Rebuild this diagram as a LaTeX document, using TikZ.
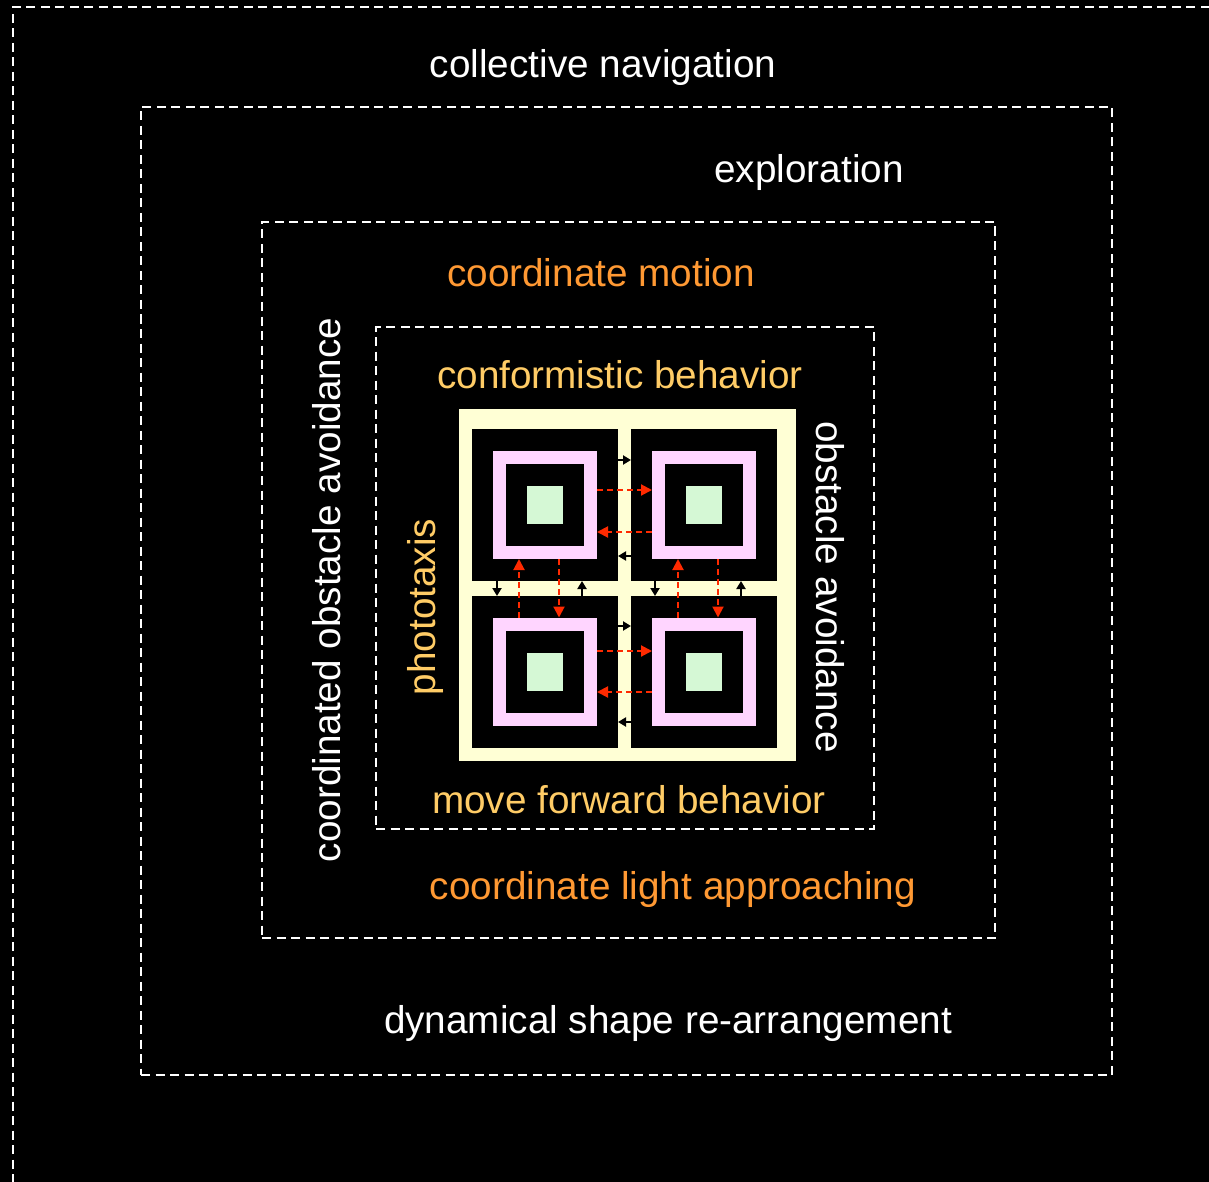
\documentclass[tikz,border=0pt]{standalone}
\usepackage{fontspec}
\setmainfont{Liberation Sans}
\usetikzlibrary{arrows.meta}
\definecolor{cream}{HTML}{FFFFD5}
\definecolor{pinkring}{HTML}{FFD5FF}
\definecolor{mint}{HTML}{D5F8D5}
\definecolor{linkred}{HTML}{FF2A00}
\definecolor{amber}{HTML}{FF9933}
\definecolor{gold}{HTML}{FFCC66}
\tikzset{
  frame/.style={draw=white, line width=1.8pt, dash pattern=on 9pt off 5.5pt,
    inner sep=0pt, outer sep=0pt},
  lbl/.style={font=\fontsize{38.7}{40}\selectfont, inner sep=0pt, anchor=base},
  cellbox/.style={fill=black, inner sep=0pt, outer sep=0pt,
    minimum width=146pt, minimum height=152pt},
  ringbox/.style={fill=pinkring, inner sep=0pt, outer sep=0pt,
    minimum width=104pt, minimum height=108pt},
  holebox/.style={fill=black, inner sep=0pt, outer sep=0pt,
    minimum width=78pt, minimum height=82pt},
  corebox/.style={fill=mint, inner sep=0pt, outer sep=0pt,
    minimum width=36pt, minimum height=38pt},
  sense/.style={black, line width=2pt, -{Triangle[length=8pt,width=9pt]}},
  signal/.style={linkred, line width=2pt, dash pattern=on 6pt off 4pt,
    -{Triangle[length=11pt,width=11pt]}}
}
\begin{document}
\begin{tikzpicture}[x=1pt,y=-1pt]
\useasboundingbox (0,0) rectangle (1209,1182);
\clip (0,0) rectangle (1209,1182);
\fill[black] (0,0) rectangle (1209,1182);

% nested behaviour frames
\node[frame, minimum width=1227pt, minimum height=1193pt] (navframe) at (626.5,603.5) {};
\node[frame, minimum width=971pt, minimum height=968pt] (expframe) at (626.5,591) {};
\node[frame, minimum width=733pt, minimum height=716pt] (motframe) at (628.5,580) {};
\node[frame, minimum width=498pt, minimum height=502pt] (conframe) at (625,578) {};

% frame titles
\node[lbl, white] (tnav) at (603,78) {collective navigation};
\node[lbl, white] (texp) at (809,183) {exploration};
\node[lbl, amber] (tmot) at (601,287) {coordinate motion};
\node[lbl, gold]  (tcon) at (620,388) {conformistic behavior};
\node[lbl, gold]  (tfwd) at (629,813) {move forward behavior};
\node[lbl, amber] (tlight) at (673,899) {coordinate light approaching};
\node[lbl, white] (tshape) at (668,1033) {dynamical shape re-arrangement};
\node[lbl, white, rotate=90] (tcoa) at (340,590) {coordinated obstacle avoidance};
\node[lbl, gold, rotate=90] (tphoto) at (435,607) {phototaxis};
\node[lbl, white, rotate=-90] (toa) at (816,587) {obstacle avoidance};

% robot modules
\node[fill=cream, inner sep=0pt, minimum width=337pt, minimum height=352pt] (board) at (627.5,585) {};
\foreach \n/\cx/\cy/\py in {a/545/505/505, b/704/505/505, c/545/672/671.5, d/704/672/671.5} {
  \node[cellbox] (cell\n) at (\cx,\cy) {};
  \node[ringbox] (ring\n) at (\cx,\py) {};
  \node[holebox] (hole\n) at (\cx,\py) {};
  \node[corebox] (core\n) at (\cx,\py) {};
}

% sensing links between neighbouring modules
\draw[sense] ([yshift=-31pt]cella.north east) -- ([yshift=-31pt]cellb.north west);
\draw[sense] ([yshift=-127pt]cellb.north west) -- ([yshift=-127pt]cella.north east);
\draw[sense] ([yshift=-30pt]cellc.north east) -- ([yshift=-30pt]celld.north west);
\draw[sense] ([yshift=-126pt]celld.north west) -- ([yshift=-126pt]cellc.north east);
\draw[sense] ([xshift=-48pt]cella.south) -- ([xshift=-48pt]cellc.north);
\draw[sense] ([xshift=37pt]cellc.north) -- ([xshift=37pt]cella.south);
\draw[sense] ([xshift=-49pt]cellb.south) -- ([xshift=-49pt]celld.north);
\draw[sense] ([xshift=37pt]celld.north) -- ([xshift=37pt]cellb.south);

% communication links between ring sensors
\draw[signal] ([yshift=15pt]ringa.east) -- ([yshift=15pt]ringb.west);
\draw[signal] ([yshift=-27pt]ringb.west) -- ([yshift=-27pt]ringa.east);
\draw[signal] ([yshift=20.5pt]ringc.east) -- ([yshift=20.5pt]ringd.west);
\draw[signal] ([yshift=-20.5pt]ringd.west) -- ([yshift=-20.5pt]ringc.east);
\draw[signal] ([xshift=-26pt]ringc.north) -- ([xshift=-26pt]ringa.south);
\draw[signal] ([xshift=14pt]ringa.south) -- ([xshift=14pt]ringc.north);
\draw[signal] ([xshift=-26pt]ringd.north) -- ([xshift=-26pt]ringb.south);
\draw[signal] ([xshift=14pt]ringb.south) -- ([xshift=14pt]ringd.north);
\end{tikzpicture}
\end{document}
